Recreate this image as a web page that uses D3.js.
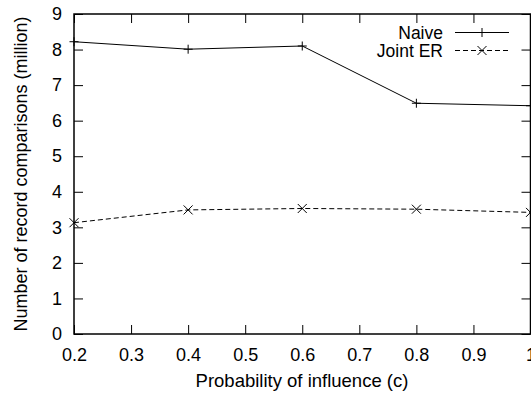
<!DOCTYPE html>
<html>
<head>
<meta charset="utf-8">
<script src="https://cdn.jsdelivr.net/npm/d3@7"></script>
<style>
  body { margin: 0; background: #fff; }
  svg { font-family: "Liberation Sans", Arial, sans-serif; }
</style>
</head>
<body>
<div id="chart"></div>
<script>
// data
var probs = [0.2, 0.4, 0.6, 0.8, 1.0];
var naive = [8.22, 8.01, 8.1, 6.49, 6.42];
var jointER = [3.13, 3.49, 3.53, 3.51, 3.42];
var xTicks = [0.2, 0.3, 0.4, 0.5, 0.6, 0.7, 0.8, 0.9, 1];
var yTicks = [0, 1, 2, 3, 4, 5, 6, 7, 8, 9];

var width = 531, height = 395;
var margin = { left: 74, top: 14, right: 0.5, bottom: 61 };
var fontSize = 18;

var svg = d3.select('#chart')
    .append('svg')
    .attr('width', width)
    .attr('height', height);

var x = d3.scaleLinear().domain([0.2, 1]).range([margin.left, width - margin.right]);
var y = d3.scaleLinear().domain([0, 9]).range([height - margin.bottom, margin.top]);

var tickLen = 9;

// ticks on all four sides, pointing inward
svg.append('g')
    .attr('transform', 'translate(0,' + y(0) + ')')
    .call(d3.axisBottom(x).tickValues(xTicks).tickSizeInner(-tickLen).tickSizeOuter(0)
        .tickPadding(14).tickFormat(function(d) { return d === 1 ? '1' : d3.format('.1f')(d); }))
    .call(function(g) { g.select('.domain').remove(); })
    .selectAll('text').attr('font-size', fontSize).attr('fill', '#000');

svg.append('g')
    .attr('transform', 'translate(0,' + y(9) + ')')
    .call(d3.axisTop(x).tickValues(xTicks).tickSizeInner(-tickLen).tickSizeOuter(0).tickFormat(''))
    .call(function(g) { g.select('.domain').remove(); });

svg.append('g')
    .attr('transform', 'translate(' + x(0.2) + ',0)')
    .call(d3.axisLeft(y).tickValues(yTicks).tickSizeInner(-tickLen).tickSizeOuter(0).tickPadding(12))
    .call(function(g) { g.select('.domain').remove(); })
    .selectAll('text').attr('font-size', fontSize).attr('fill', '#000');

svg.append('g')
    .attr('transform', 'translate(' + x(1) + ',0)')
    .call(d3.axisRight(y).tickValues(yTicks).tickSizeInner(-tickLen).tickSizeOuter(0).tickFormat(''))
    .call(function(g) { g.select('.domain').remove(); });

svg.selectAll('.tick line').attr('stroke', '#000');

// frame
svg.append('rect')
    .attr('x', x(0.2))
    .attr('y', y(9))
    .attr('width', x(1) - x(0.2))
    .attr('height', y(0) - y(9))
    .attr('fill', 'none')
    .attr('stroke', '#000')
    .attr('stroke-width', 1.5);

var line = d3.line()
    .x(function(d) { return x(d[0]); })
    .y(function(d) { return y(d[1]); });

var naivePts = probs.map(function(p, i) { return [p, naive[i]]; });
var jointPts = probs.map(function(p, i) { return [p, jointER[i]]; });

svg.append('path')
    .datum(naivePts)
    .attr('d', line)
    .attr('fill', 'none')
    .attr('stroke', '#000')
    .attr('stroke-width', 1);

svg.append('path')
    .datum(jointPts)
    .attr('d', line)
    .attr('fill', 'none')
    .attr('stroke', '#000')
    .attr('stroke-width', 1)
    .attr('stroke-dasharray', '5,3');

var m = 4.5;
function plusMark(g, cx, cy) {
    g.append('path')
        .attr('d', 'M' + (cx - m) + ',' + cy + 'H' + (cx + m) + 'M' + cx + ',' + (cy - m) + 'V' + (cy + m))
        .attr('stroke', '#000').attr('stroke-width', 1).attr('fill', 'none');
}
function crossMark(g, cx, cy) {
    g.append('path')
        .attr('d', 'M' + (cx - m) + ',' + (cy - m) + 'L' + (cx + m) + ',' + (cy + m) +
            'M' + (cx - m) + ',' + (cy + m) + 'L' + (cx + m) + ',' + (cy - m))
        .attr('stroke', '#000').attr('stroke-width', 1).attr('fill', 'none');
}

var marks = svg.append('g');
naivePts.forEach(function(d) { plusMark(marks, x(d[0]), y(d[1])); });
jointPts.forEach(function(d) { crossMark(marks, x(d[0]), y(d[1])); });

// legend
var legend = svg.append('g');
var legendItems = [
    { name: 'Naive', mark: plusMark, dash: null, y: 32.5 },
    { name: 'Joint ER', mark: crossMark, dash: '5,3', y: 50.5 }
];
legendItems.forEach(function(it) {
    legend.append('text')
        .attr('x', 443)
        .attr('y', it.y)
        .attr('dy', '0.35em')
        .attr('text-anchor', 'end')
        .attr('font-size', 17.5)
        .text(it.name);
    legend.append('line')
        .attr('x1', 455).attr('x2', 509)
        .attr('y1', it.y).attr('y2', it.y)
        .attr('stroke', '#000').attr('stroke-width', 1)
        .attr('stroke-dasharray', it.dash);
    it.mark(legend, 482, it.y);
});

// axis titles
svg.append('text')
    .attr('x', 302)
    .attr('y', 387)
    .attr('text-anchor', 'middle')
    .attr('font-size', 18.5)
    .text('Probability of influence (c)');

svg.append('text')
    .attr('transform', 'translate(27,' + y(4.5) + ') rotate(-90)')
    .attr('text-anchor', 'middle')
    .attr('font-size', fontSize)
    .text('Number of record comparisons (million)');
</script>
</body>
</html>
